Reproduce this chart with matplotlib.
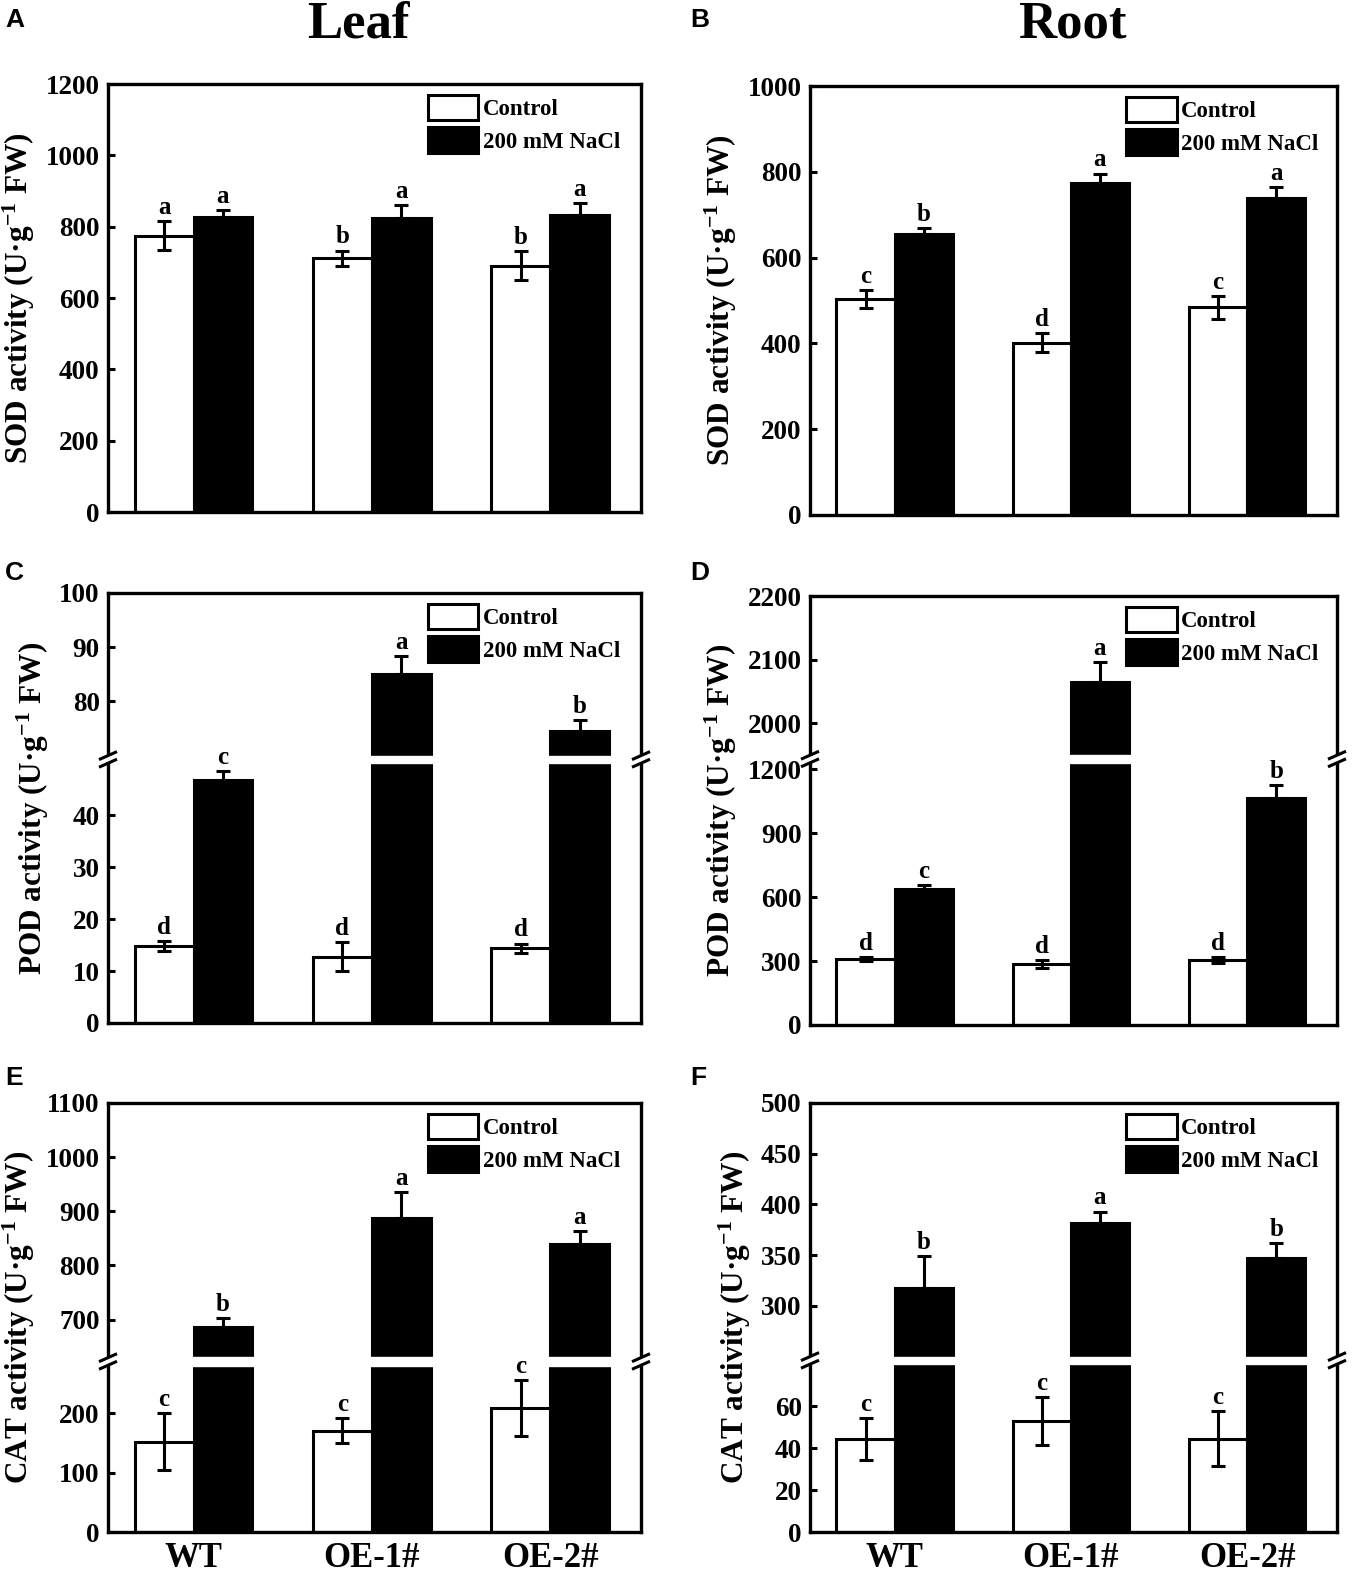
import numpy as np
import matplotlib
matplotlib.use('Agg')
import matplotlib.pyplot as plt
from matplotlib.patches import Patch, Polygon

plt.rcParams['font.family'] = ['Liberation Serif', 'DejaVu Serif']
plt.rcParams['font.weight'] = 'bold'
plt.rcParams['mathtext.default'] = 'regular'

genotypes = ['WT', 'OE-1#', 'OE-2#']
legend_labels = ['Control', '200 mM NaCl']

# A - leaf SOD
sod_leaf_ctrl = [775, 712, 691]
sod_leaf_ctrl_err = [40, 21, 41]
sod_leaf_salt = [826, 825, 832]
sod_leaf_salt_err = [21, 35, 35]
sod_leaf_ctrl_let = ['a', 'b', 'b']
sod_leaf_salt_let = ['a', 'a', 'a']

# B - root SOD
sod_root_ctrl = [504, 402, 484]
sod_root_ctrl_err = [21, 23, 27]
sod_root_salt = [656, 774, 739]
sod_root_salt_err = [13, 22, 26]
sod_root_ctrl_let = ['c', 'd', 'c']
sod_root_salt_let = ['b', 'a', 'a']

# C - leaf POD
pod_leaf_ctrl = [14.8, 12.8, 14.4]
pod_leaf_ctrl_err = [1.0, 2.8, 0.9]
pod_leaf_salt = [46.8, 85.0, 74.6]
pod_leaf_salt_err = [1.7, 3.4, 1.9]
pod_leaf_ctrl_let = ['d', 'd', 'd']
pod_leaf_salt_let = ['c', 'a', 'b']

# D - root POD
pod_root_ctrl = [310, 285, 305]
pod_root_ctrl_err = [10, 18, 12]
pod_root_salt = [638, 2065, 1067]
pod_root_salt_err = [17, 31, 57]
pod_root_ctrl_let = ['d', 'd', 'd']
pod_root_salt_let = ['c', 'a', 'b']

# E - leaf CAT
cat_leaf_ctrl = [152, 170, 208]
cat_leaf_ctrl_err = [48, 21, 47]
cat_leaf_salt = [686, 888, 840]
cat_leaf_salt_err = [17, 48, 23]
cat_leaf_ctrl_let = ['c', 'c', 'c']
cat_leaf_salt_let = ['b', 'a', 'a']

# F - root CAT
cat_root_ctrl = [44.5, 53, 44.5]
cat_root_ctrl_err = [10, 11.5, 13]
cat_root_salt = [318, 382, 347]
cat_root_salt_err = [31, 11, 15]
cat_root_ctrl_let = ['c', 'c', 'c']
cat_root_salt_let = ['b', 'a', 'b']

W, H = 1359, 1582


def broken_funcs(b1, b2, top, f1, f2):
    xs = [0, b1, b2, top]
    fs = [0, f1, f2, 1]

    def fwd(y):
        y = np.asarray(y, dtype=float)
        out = np.interp(y, xs, fs)
        out = np.where(y < 0, y * f1 / b1, out)
        out = np.where(y > top, 1 + (y - top) * (1 - f2) / (top - b2), out)
        return out

    def inv(v):
        v = np.asarray(v, dtype=float)
        out = np.interp(v, fs, xs)
        out = np.where(v < 0, v * b1 / f1, out)
        out = np.where(v > 1, top + (v - 1) * (top - b2) / (1 - f2), out)
        return out
    return fwd, inv


def draw_break(ax, yc, px_w, px_h):
    # "//" marks on both spines
    dx = 9 / px_w
    dy = 4 / px_h
    sep = 3.8 / px_h
    for xc in (0, 1):
        poly = Polygon([(xc - dx, yc - sep - dy), (xc + dx, yc - sep + dy),
                        (xc + dx, yc + sep + dy), (xc - dx, yc + sep - dy)],
                       closed=True, transform=ax.transAxes, facecolor='white',
                       edgecolor='none', clip_on=False, zorder=5)
        ax.add_patch(poly)
        for s in (-sep, sep):
            ax.plot([xc - dx, xc + dx], [yc + s - dy, yc + s + dy], color='k',
                    lw=2.2, transform=ax.transAxes, clip_on=False, zorder=6,
                    solid_capstyle='butt')


panels = [
    dict(label='A', lab_y=27, box=(108, 641, 84, 512), ylabel='SOD', top=1200,
         ticks=[0, 200, 400, 600, 800, 1000, 1200], brk=None,
         ctrl=sod_leaf_ctrl, cerr=sod_leaf_ctrl_err, salt=sod_leaf_salt,
         serr=sod_leaf_salt_err, clet=sod_leaf_ctrl_let, slet=sod_leaf_salt_let),
    dict(label='B', lab_y=27, box=(810, 1337, 86, 515), ylabel='SOD', top=1000,
         ticks=[0, 200, 400, 600, 800, 1000], brk=None,
         ctrl=sod_root_ctrl, cerr=sod_root_ctrl_err, salt=sod_root_salt,
         serr=sod_root_salt_err, clet=sod_root_ctrl_let, slet=sod_root_salt_let),
    dict(label='C', lab_y=580, box=(108, 641, 593, 1023), ylabel='POD', top=100,
         ticks=[0, 10, 20, 30, 40, 80, 90, 100], brk=(50, 70, 0.604, 0.622),
         ctrl=pod_leaf_ctrl, cerr=pod_leaf_ctrl_err, salt=pod_leaf_salt,
         serr=pod_leaf_salt_err, clet=pod_leaf_ctrl_let, slet=pod_leaf_salt_let),
    dict(label='D', lab_y=580, box=(810, 1337, 596, 1025), ylabel='POD', top=2200,
         ticks=[0, 300, 600, 900, 1200, 2000, 2100, 2200],
         brk=(1230, 1950, 0.611, 0.629),
         ctrl=pod_root_ctrl, cerr=pod_root_ctrl_err, salt=pod_root_salt,
         serr=pod_root_salt_err, clet=pod_root_ctrl_let, slet=pod_root_salt_let),
    dict(label='E', lab_y=1085, box=(108, 641, 1103, 1532), ylabel='CAT', top=1100,
         ticks=[0, 100, 200, 700, 800, 900, 1000, 1100],
         brk=(280, 630, 0.388, 0.407),
         ctrl=cat_leaf_ctrl, cerr=cat_leaf_ctrl_err, salt=cat_leaf_salt,
         serr=cat_leaf_salt_err, clet=cat_leaf_ctrl_let, slet=cat_leaf_salt_let),
    dict(label='F', lab_y=1085, box=(810, 1337, 1103, 1532), ylabel='CAT', top=500,
         ticks=[0, 20, 40, 60, 300, 350, 400, 450, 500],
         brk=(80, 250, 0.391, 0.409),
         ctrl=cat_root_ctrl, cerr=cat_root_ctrl_err, salt=cat_root_salt,
         serr=cat_root_salt_err, clet=cat_root_ctrl_let, slet=cat_root_salt_let),
]

fig = plt.figure(figsize=(W / 100, H / 100), dpi=100)

x = np.arange(len(genotypes))
bw = 0.33

for i, p in enumerate(panels):
    l, r, t, b = p['box']
    ax = fig.add_axes([l / W, 1 - b / H, (r - l) / W, (b - t) / H])
    px_w, px_h = r - l, b - t

    if p['brk'] is not None:
        b1, b2, f1, f2 = p['brk']
        ax.set_yscale('function', functions=broken_funcs(b1, b2, p['top'], f1, f2))

    ax.bar(x - bw / 2, p['ctrl'], bw, color='white', edgecolor='k', linewidth=2.2,
           zorder=1)
    ax.bar(x + bw / 2, p['salt'], bw, color='k', edgecolor='k', linewidth=2.2,
           zorder=1)
    ax.errorbar(x - bw / 2, p['ctrl'], yerr=p['cerr'], fmt='none', ecolor='k',
                elinewidth=2.2, capsize=5, capthick=2.2, zorder=3)
    ax.errorbar(x + bw / 2, p['salt'], yerr=[np.zeros(3), p['serr']], fmt='none',
                ecolor='k', elinewidth=2.2, capsize=5, capthick=2.2, zorder=3)

    for j in range(3):
        ax.annotate(p['clet'][j], (x[j] - bw / 2, p['ctrl'][j] + p['cerr'][j]),
                    xytext=(0, 1.5), textcoords='offset points', ha='center',
                    va='bottom', fontsize=18, fontweight='bold')
        ax.annotate(p['slet'][j], (x[j] + bw / 2, p['salt'][j] + p['serr'][j]),
                    xytext=(0, 1.5), textcoords='offset points', ha='center',
                    va='bottom', fontsize=18, fontweight='bold')

    ax.set_xlim(-0.48, 2.51)
    ax.set_ylim(0, p['top'])
    ax.set_yticks(p['ticks'])
    ax.set_yticklabels([str(v) for v in p['ticks']])
    ax.minorticks_off()
    ax.set_xticks(x)
    if i >= 4:
        ax.set_xticklabels(genotypes, fontsize=25, fontweight='bold')
    else:
        ax.set_xticklabels([])
    ax.tick_params(axis='x', length=0, pad=7)
    ax.tick_params(axis='y', direction='in', length=5, width=2.2, labelsize=19.5,
                   pad=6)
    for sp in ax.spines.values():
        sp.set_linewidth(2.4)

    ax.set_ylabel(p['ylabel'] + ' activity (U·g$^{-1}$ FW)', fontsize=22.5,
                  fontweight='bold', labelpad=6)

    if p['brk'] is not None:
        b1, b2, f1, f2 = p['brk']
        ax.axhspan(b1, b2, color='white', zorder=2.2)
        draw_break(ax, (f1 + f2) / 2, px_w, px_h)

    handles = [Patch(facecolor='white', edgecolor='k', linewidth=2.2),
               Patch(facecolor='k', edgecolor='k', linewidth=2.2)]
    ax.legend(handles, legend_labels, loc='upper left', bbox_to_anchor=(0.6, 0.975),
              frameon=False, fontsize=16.5, handlelength=2.2, handleheight=1.35,
              handletextpad=0.2, labelspacing=0.3, borderpad=0, borderaxespad=0)

    lab_x = 5 if l < 500 else 690
    fig.text(lab_x / W, 1 - p['lab_y'] / H, p['label'], family='Liberation Sans',
             fontweight='bold', fontsize=19, va='baseline', ha='left')

fig.text(358 / W, 1 - 37 / H, 'Leaf', ha='center', va='baseline', fontsize=38,
         fontweight='bold')
fig.text(1072 / W, 1 - 37 / H, 'Root', ha='center', va='baseline', fontsize=38,
         fontweight='bold')

fig.savefig('out.png', dpi=100)
